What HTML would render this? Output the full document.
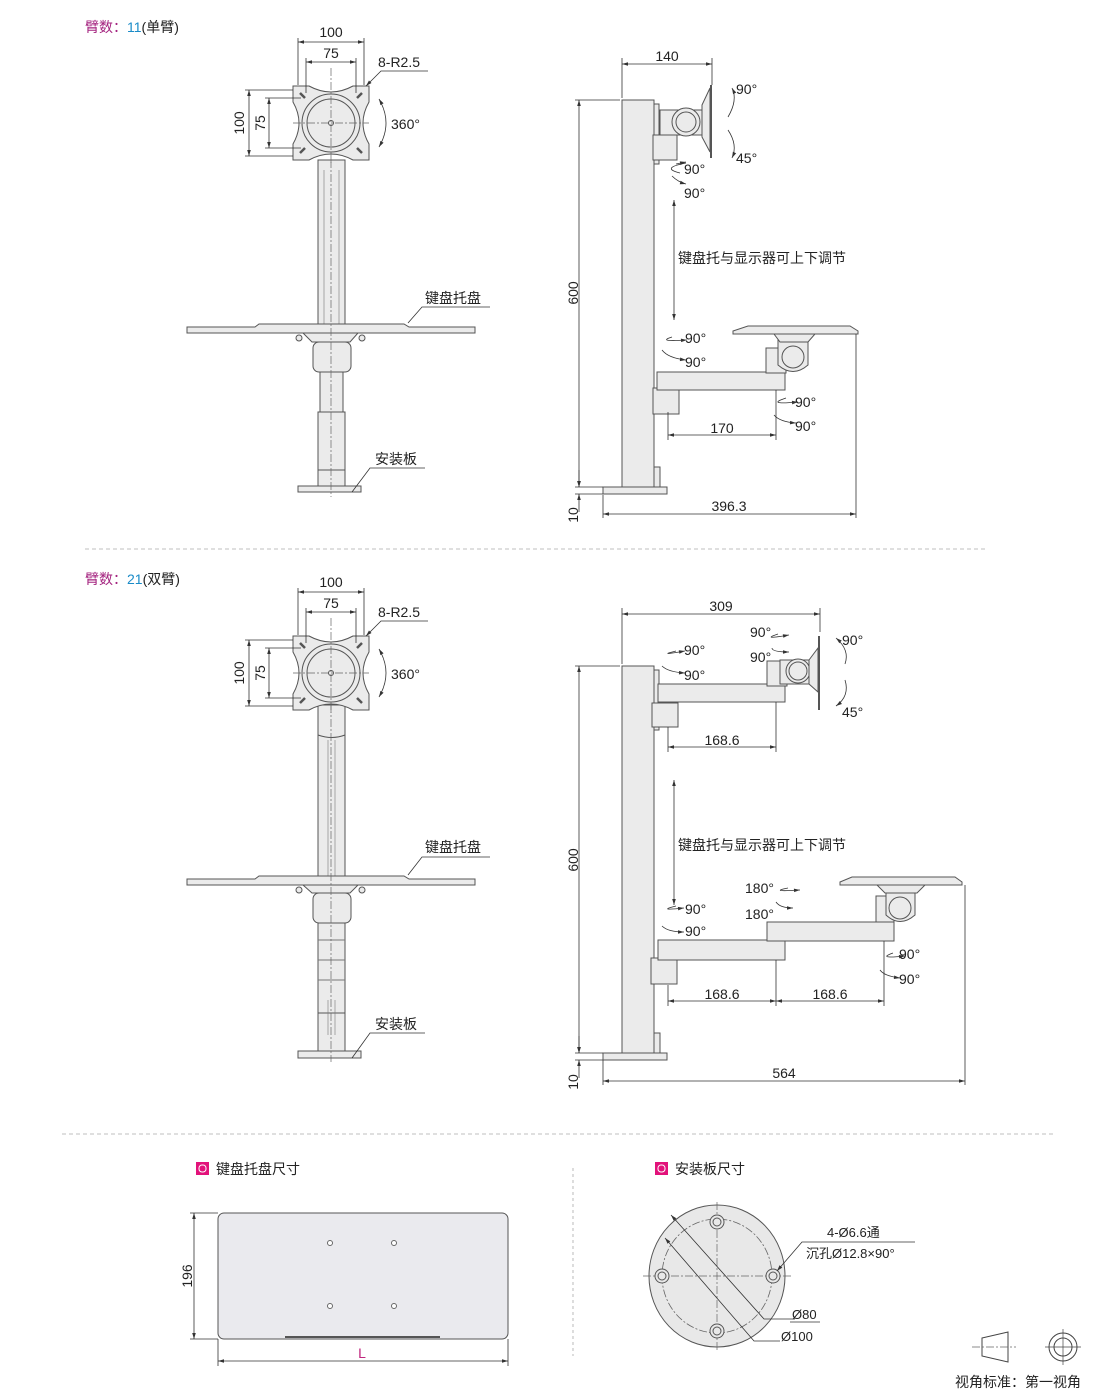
<!DOCTYPE html>
<html><head><meta charset="utf-8"><style>
html,body{margin:0;padding:0;background:#fff;}
svg{display:block;font-family:"Liberation Sans","Noto Sans CJK SC",sans-serif;}
.o{fill:#ebebeb;stroke:#555;stroke-width:1}
.l{fill:none;stroke:#333;stroke-width:0.8}
.c{fill:none;stroke:#666;stroke-width:0.7;stroke-dasharray:8 2 2 2}
.d{fill:none;stroke:#333;stroke-width:0.8;marker-start:url(#a);marker-end:url(#a)}
.de{fill:none;stroke:#333;stroke-width:0.8;marker-end:url(#a)}
text{font-size:14px;fill:#222}
</style></head><body>
<svg width="1110" height="1392" viewBox="0 0 1110 1392" xmlns="http://www.w3.org/2000/svg">
<defs>
<marker id="a" viewBox="0 0 10 10" refX="10" refY="5" markerWidth="9" markerHeight="6" orient="auto-start-reverse" markerUnits="userSpaceOnUse"><path d="M0,2 L10,5 L0,8 z" fill="#333"/></marker>
<g id="head">
 <path class="o" d="M-38,-37 h16 q22,12 44,0 h16 v16 q-12,21 0,42 v16 h-16 q-22,-12 -44,0 h-16 v-16 q12,-21 0,-42 z"/>
 <circle class="o" cx="0" cy="0" r="29"/><circle class="o" cx="0" cy="0" r="24"/>
 <g stroke="#555" stroke-width="2.5"><line x1="-31" y1="-30" x2="-26" y2="-25"/><line x1="31" y1="-30" x2="26" y2="-25"/><line x1="-31" y1="30" x2="-26" y2="25"/><line x1="31" y1="30" x2="26" y2="25"/></g>
 <line class="c" x1="-38" y1="0" x2="38" y2="0"/><line class="c" x1="0" y1="-55" x2="0" y2="40"/>
 <circle cx="0" cy="0" r="2.5" fill="none" stroke="#555"/>
 <!-- dims -->
 <line class="l" x1="-33" y1="-38" x2="-33" y2="-85"/><line class="l" x1="33" y1="-38" x2="33" y2="-85"/>
 <line class="d" x1="-33" y1="-81" x2="33" y2="-81"/><text x="0" y="-86" text-anchor="middle">100</text>
 <line class="l" x1="-25" y1="-30" x2="-25" y2="-65"/><line class="l" x1="25" y1="-30" x2="25" y2="-65"/>
 <line class="d" x1="-25" y1="-61" x2="25" y2="-61"/><text x="0" y="-65" text-anchor="middle">75</text>
 <line class="l" x1="-38" y1="-33" x2="-86" y2="-33"/><line class="l" x1="-38" y1="33" x2="-86" y2="33"/>
 <line class="d" x1="-82" y1="-33" x2="-82" y2="33"/><text transform="translate(-87,0) rotate(-90)" text-anchor="middle">100</text>
 <line class="l" x1="-30" y1="-25" x2="-66" y2="-25"/><line class="l" x1="-30" y1="25" x2="-66" y2="25"/>
 <line class="d" x1="-62" y1="-25" x2="-62" y2="25"/><text transform="translate(-66,0) rotate(-90)" text-anchor="middle">75</text>
 <path class="l" d="M35,-37 L50,-52 H97" marker-start="url(#a)"/><text x="47" y="-56">8-R2.5</text>
 <path d="M48,-24 Q62,0 48,24" fill="none" stroke="#333" stroke-width="0.8" marker-start="url(#a)" marker-end="url(#a)"/>
 <text x="60" y="6">360°</text>
</g>
<g id="sidebase">
 <rect class="o" x="622" y="0" width="32" height="387"/>
 <rect class="o" x="654" y="4" width="5" height="60"/>
 <rect class="o" x="654" y="367" width="6" height="20"/>
 <rect class="o" x="603" y="387" width="64" height="7"/>
</g>
</defs>

<!-- Section 1 -->
<text x="85" y="32" style="fill:#a4237f">臂数：<tspan style="fill:#1a8bc8">11</tspan><tspan style="fill:#222">(单臂)</tspan></text>
<text x="85" y="584" style="fill:#a4237f">臂数：<tspan style="fill:#1a8bc8">21</tspan><tspan style="fill:#222">(双臂)</tspan></text>

<!-- front view 1 -->
<rect class="o" x="318" y="160" width="27" height="168"/>
<line x1="324" y1="170" x2="324" y2="325" stroke="#777" stroke-width="0.6"/><line x1="339" y1="170" x2="339" y2="325" stroke="#777" stroke-width="0.6"/>
<path class="o" d="M187,333 V327 H255 L259,324 H404 L409,327 H475 V333 Z"/>
<path class="o" d="M303,333 H358 L350,342 H312 Z"/>
<rect class="o" x="313" y="342" width="38" height="30" rx="6"/>
<rect class="o" x="320" y="372" width="23" height="40"/>
<rect class="o" x="318" y="412" width="27" height="58"/>
<rect class="o" x="318" y="470" width="27" height="16"/>
<rect class="o" x="298" y="486" width="63" height="6"/>
<circle class="o" cx="299" cy="338" r="3"/><circle class="o" cx="362" cy="338" r="3"/>
<line class="c" x1="331" y1="160" x2="331" y2="497"/>
<use href="#head" x="331" y="123"/>
<path class="l" d="M408,323 L422,307 H490"/><text x="425" y="303">键盘托盘</text>
<path class="l" d="M352,492 L370,468 H425"/><text x="375" y="464">安装板</text>

<!-- side view 1 -->
<use href="#sidebase" x="0" y="100"/>
<line class="l" x1="575" y1="100" x2="620" y2="100"/><line class="l" x1="575" y1="487" x2="603" y2="487"/><line class="l" x1="575" y1="494" x2="603" y2="494"/>
<line class="d" x1="579" y1="100" x2="579" y2="487"/><text transform="translate(578,293) rotate(-90)" text-anchor="middle">600</text>
<line class="de" x1="579" y1="470" x2="579" y2="487"/><line class="de" x1="579" y1="512" x2="579" y2="494"/>
<text transform="translate(578,515) rotate(-90)" text-anchor="middle">10</text>
<line class="l" x1="622" y1="98" x2="622" y2="58"/><line class="l" x1="712" y1="85" x2="712" y2="58"/>
<line class="d" x1="622" y1="64" x2="712" y2="64"/><text x="667" y="61" text-anchor="middle">140</text>
<rect class="o" x="653" y="135" width="24" height="25"/>
<rect class="o" x="660" y="110" width="46" height="25"/>
<circle class="o" cx="686" cy="122" r="14"/><circle class="o" cx="686" cy="122" r="10"/>
<path class="o" d="M702,105 L710,88 V152 L702,137 Z"/>
<line x1="711" y1="85" x2="711" y2="158" stroke="#555" stroke-width="2"/>
<path d="M728,117 Q738,100 732,88" class="de"/><text x="736" y="94">90°</text>
<path d="M728,130 Q738,145 732,158" class="de"/><text x="736" y="163">45°</text>
<path d="M686,163 Q660,168 680,173" class="l"/><line class="de" x1="676" y1="164" x2="686" y2="162"/><text x="684" y="174">90°</text>
<path class="de" d="M672,176 Q678,182 686,184"/><text x="684" y="198">90°</text>
<line class="d" x1="674" y1="200" x2="674" y2="320"/>
<text x="678" y="263">键盘托与显示器可上下调节</text>
<path class="de" d="M672,337 Q656,342 687,340"/><text x="685" y="343">90°</text>
<path class="de" d="M662,350 Q668,358 686,360"/><text x="685" y="367">90°</text>
<rect class="o" x="653" y="388" width="26" height="26"/>
<rect class="o" x="657" y="372" width="128" height="18"/>
<rect class="o" x="766" y="348" width="20" height="25"/>
<path class="o" d="M778,340 H808 V365 Q793,378 778,365 Z"/>
<circle class="o" cx="793" cy="357" r="11"/>
<path class="o" d="M774,334 H815 L808,342 H780 Z"/>
<path class="o" d="M733,334 V331 L748,326 H850 L858,331 V334 Z"/>
<line class="l" x1="776" y1="390" x2="776" y2="440"/><line class="l" x1="668" y1="412" x2="668" y2="440"/>
<path class="de" d="M786,398 Q765,405 798,402"/><text x="795" y="407">90°</text>
<path class="de" d="M774,415 Q780,422 796,423"/><text x="795" y="431">90°</text>
<line class="d" x1="668" y1="435" x2="776" y2="435"/><text x="722" y="433" text-anchor="middle">170</text>
<line class="l" x1="856" y1="334" x2="856" y2="518"/><line class="l" x1="603" y1="495" x2="603" y2="518"/>
<line class="d" x1="603" y1="514" x2="856" y2="514"/><text x="729" y="511" text-anchor="middle">396.3</text>

<line x1="85" y1="549" x2="988" y2="549" stroke="#aaa" stroke-dasharray="4 3" stroke-width="0.8"/>

<!-- front view 2 -->
<rect class="o" x="318" y="705" width="27" height="175"/>
<path class="o" d="M318,705 h27 v30 q-13,5 -27,0 z"/>
<line x1="328" y1="740" x2="328" y2="876" stroke="#777" stroke-width="0.6"/><line x1="335" y1="740" x2="335" y2="876" stroke="#777" stroke-width="0.6"/>
<path class="o" d="M187,885 V879 H255 L259,876 H404 L409,879 H475 V885 Z"/>
<path class="o" d="M303,885 H358 L350,893 H312 Z"/>
<rect class="o" x="313" y="893" width="38" height="30" rx="6"/>
<rect class="o" x="318" y="923" width="27" height="90"/>
<line x1="318" y1="940" x2="345" y2="940" stroke="#777"/><line x1="318" y1="960" x2="345" y2="960" stroke="#777"/><line x1="318" y1="980" x2="345" y2="980" stroke="#777"/>
<rect class="o" x="318" y="1013" width="27" height="38"/>
<line x1="328" y1="1000" x2="328" y2="1035" stroke="#777" stroke-width="0.6"/><line x1="335" y1="1000" x2="335" y2="1035" stroke="#777" stroke-width="0.6"/>
<rect class="o" x="298" y="1051" width="63" height="7"/>
<circle class="o" cx="299" cy="890" r="3"/><circle class="o" cx="362" cy="890" r="3"/>
<line class="c" x1="331" y1="705" x2="331" y2="1062"/>
<use href="#head" x="331" y="673"/>
<path class="l" d="M408,875 L422,857 H490"/><text x="425" y="852">键盘托盘</text>
<path class="l" d="M352,1058 L370,1033 H425"/><text x="375" y="1029">安装板</text>

<!-- side view 2 -->
<use href="#sidebase" x="0" y="666"/>
<line class="l" x1="575" y1="666" x2="620" y2="666"/><line class="l" x1="575" y1="1053" x2="603" y2="1053"/><line class="l" x1="575" y1="1060" x2="603" y2="1060"/>
<line class="d" x1="579" y1="666" x2="579" y2="1053"/><text transform="translate(578,860) rotate(-90)" text-anchor="middle">600</text>
<line class="de" x1="579" y1="1036" x2="579" y2="1053"/><line class="de" x1="579" y1="1078" x2="579" y2="1060"/>
<text transform="translate(578,1082) rotate(-90)" text-anchor="middle">10</text>
<line class="l" x1="622" y1="664" x2="622" y2="608"/><line class="l" x1="820" y1="632" x2="820" y2="608"/>
<line class="d" x1="622" y1="614" x2="820" y2="614"/><text x="721" y="611" text-anchor="middle">309</text>
<rect class="o" x="652" y="703" width="26" height="24"/>
<rect class="o" x="658" y="684" width="127" height="18"/>
<rect class="o" x="767" y="661" width="20" height="25"/>
<rect class="o" x="780" y="660" width="30" height="24"/>
<circle class="o" cx="798" cy="671" r="12"/><circle class="o" cx="798" cy="671" r="9"/>
<path class="o" d="M809,660 L818,648 V692 L809,684 Z"/>
<line x1="819" y1="636" x2="819" y2="710" stroke="#555" stroke-width="2"/>
<path class="de" d="M845,664 Q850,650 836,638"/><text x="842" y="645">90°</text>
<path class="de" d="M845,680 Q850,696 836,706"/><text x="842" y="717">45°</text>
<path class="de" d="M778,634 Q760,640 789,635"/><text x="750" y="637">90°</text>
<path class="de" d="M772,648 Q772,652 789,652"/><text x="750" y="662">90°</text>
<path class="de" d="M676,651 Q656,656 685,651"/><text x="684" y="655">90°</text>
<path class="de" d="M662,666 Q668,672 685,673"/><text x="684" y="680">90°</text>
<line class="l" x1="668" y1="727" x2="668" y2="752"/><line class="l" x1="776" y1="702" x2="776" y2="752"/>
<line class="d" x1="668" y1="747" x2="776" y2="747"/><text x="722" y="745" text-anchor="middle">168.6</text>
<line class="d" x1="674" y1="780" x2="674" y2="905"/>
<text x="678" y="850">键盘托与显示器可上下调节</text>
<path class="de" d="M788,888 Q768,892 800,890"/><text x="745" y="893">180°</text>
<path class="de" d="M776,902 Q780,908 793,908"/><text x="745" y="919">180°</text>
<path class="de" d="M676,906 Q656,911 684,908"/><text x="685" y="914">90°</text>
<path class="de" d="M662,926 Q668,932 684,932"/><text x="685" y="936">90°</text>
<rect class="o" x="651" y="958" width="26" height="26"/>
<rect class="o" x="658" y="940" width="127" height="20"/>
<rect class="o" x="767" y="922" width="127" height="19"/>
<rect class="o" x="876" y="896" width="18" height="26"/>
<path class="o" d="M886,890 H915 V915 Q900,928 886,915 Z"/>
<circle class="o" cx="900" cy="908" r="11"/>
<path class="o" d="M877,885 H925 L917,893 H885 Z"/>
<path class="o" d="M840,885 V882 L852,877 H955 L962,882 V885 Z"/>
<line class="l" x1="668" y1="985" x2="668" y2="1006"/><line class="l" x1="776" y1="960" x2="776" y2="1006"/><line class="l" x1="884" y1="941" x2="884" y2="1006"/>
<path class="de" d="M893,953 Q876,959 905,956"/><text x="899" y="959">90°</text>
<path class="de" d="M880,970 Q884,976 900,978"/><text x="899" y="984">90°</text>
<line class="d" x1="668" y1="1001" x2="776" y2="1001"/><text x="722" y="999" text-anchor="middle">168.6</text>
<line class="d" x1="776" y1="1001" x2="884" y2="1001"/><text x="830" y="999" text-anchor="middle">168.6</text>
<line class="l" x1="965" y1="885" x2="965" y2="1085"/><line class="l" x1="603" y1="1060" x2="603" y2="1085"/>
<line class="d" x1="603" y1="1081" x2="965" y2="1081"/><text x="784" y="1078" text-anchor="middle">564</text>

<line x1="62" y1="1134" x2="1055" y2="1134" stroke="#aaa" stroke-dasharray="4 3" stroke-width="0.8"/>

<!-- bottom -->
<rect x="196" y="1162" width="13" height="13" fill="#e2127a"/><rect x="199" y="1165" width="7" height="7" rx="3" fill="none" stroke="#fff" stroke-width="1"/>
<text x="216" y="1174">键盘托盘尺寸</text>
<rect x="655" y="1162" width="13" height="13" fill="#e2127a"/><rect x="658" y="1165" width="7" height="7" rx="3" fill="none" stroke="#fff" stroke-width="1"/>
<text x="675" y="1174">安装板尺寸</text>
<rect x="218" y="1213" width="290" height="126" rx="6" fill="#eaeaee" stroke="#555"/>
<line x1="285" y1="1337" x2="440" y2="1337" stroke="#555" stroke-width="2"/>
<g fill="#fff" stroke="#666"><circle cx="330" cy="1243" r="2.5"/><circle cx="394" cy="1243" r="2.5"/><circle cx="330" cy="1306" r="2.5"/><circle cx="394" cy="1306" r="2.5"/></g>
<line class="l" x1="190" y1="1213" x2="218" y2="1213"/><line class="l" x1="190" y1="1339" x2="218" y2="1339"/>
<line class="d" x1="194" y1="1213" x2="194" y2="1339"/><text transform="translate(192,1276) rotate(-90)" text-anchor="middle">196</text>
<line class="l" x1="218" y1="1339" x2="218" y2="1366"/><line class="l" x1="508" y1="1339" x2="508" y2="1366"/>
<line class="d" x1="218" y1="1361" x2="508" y2="1361"/><text x="362" y="1358" text-anchor="middle" style="fill:#c0267e">L</text>
<line x1="573" y1="1168" x2="573" y2="1356" stroke="#aaa" stroke-dasharray="3 3" stroke-width="0.8"/>
<ellipse cx="717" cy="1276" rx="68" ry="71" fill="#e8e8e8" stroke="#555"/>
<ellipse cx="717" cy="1276" rx="55" ry="57" fill="none" stroke="#666" stroke-dasharray="8 2 2 2" stroke-width="0.8"/>
<line class="c" x1="643" y1="1276" x2="792" y2="1276"/><line class="c" x1="717" y1="1202" x2="717" y2="1350"/>
<g fill="#e8e8e8" stroke="#555"><circle cx="717" cy="1222" r="7"/><circle cx="717" cy="1222" r="4"/><circle cx="717" cy="1331" r="7"/><circle cx="717" cy="1331" r="4"/><circle cx="662" cy="1276" r="7"/><circle cx="662" cy="1276" r="4"/><circle cx="773" cy="1276" r="7"/><circle cx="773" cy="1276" r="4"/></g>
<path class="l" d="M671,1215 L764,1319 H795" marker-start="url(#a)"/>
<path class="l" d="M665,1238 L754,1341 H780" marker-start="url(#a)"/>
<text x="792" y="1319" style="font-size:13px">Ø80</text><line x1="790" y1="1322" x2="820" y2="1322" stroke="#333" stroke-width="0.8"/>
<text x="781" y="1341" style="font-size:13px">Ø100</text>
<path class="l" d="M777,1271 L802,1242 H915" marker-start="url(#a)"/>
<text x="827" y="1237" style="font-size:13px">4-Ø6.6通</text>
<text x="806" y="1258" style="font-size:13px">沉孔Ø12.8×90°</text>
<path d="M982,1338 L1008,1332 V1362 L982,1356 Z" fill="#fff" stroke="#444"/>
<line class="c" x1="972" y1="1347" x2="1016" y2="1347"/>
<circle cx="1063" cy="1347" r="14" fill="#fff" stroke="#444"/><circle cx="1063" cy="1347" r="9" fill="none" stroke="#444"/>
<line x1="1045" y1="1347" x2="1081" y2="1347" stroke="#444" stroke-width="0.7"/><line x1="1063" y1="1329" x2="1063" y2="1365" stroke="#444" stroke-width="0.7"/>
<text x="955" y="1387">视角标准：第一视角</text>
</svg>
</body></html>
